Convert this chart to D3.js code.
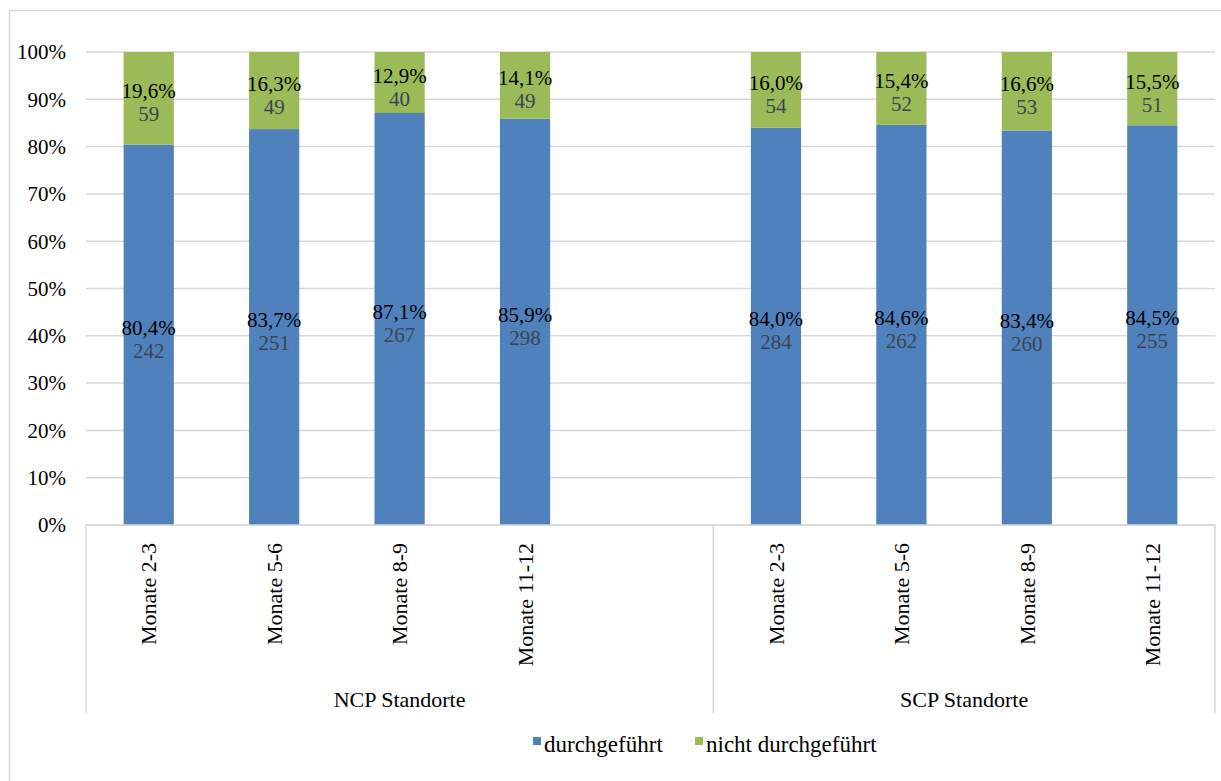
<!DOCTYPE html>
<html>
<head>
<meta charset="utf-8">
<script src="https://cdn.jsdelivr.net/npm/d3@7"></script>
<style>
  body { margin: 0; background: #fff; }
  text { font-family: "Liberation Serif", "Times New Roman", serif; }
</style>
</head>
<body>
<div id="chart"></div>
<script>
// Daten
const groups = ["NCP Standorte", "SCP Standorte"];
const months = ["Monate 2-3", "Monate 5-6", "Monate 8-9", "Monate 11-12"];
const pctDone = [[80.4, 83.7, 87.1, 85.9], [84.0, 84.6, 83.4, 84.5]];
const pctNotDone = [[19.6, 16.3, 12.9, 14.1], [16.0, 15.4, 16.6, 15.5]];
const cntDone = [[242, 251, 267, 298], [284, 262, 260, 255]];
const cntNotDone = [[59, 49, 40, 49], [54, 52, 53, 51]];
const series = ["durchgeführt", "nicht durchgeführt"];
const colors = ["#4f81bd", "#9bbb59"];
const yTicks = [0, 10, 20, 30, 40, 50, 60, 70, 80, 90, 100];

const W = 1221, H = 781;
const margin = { top: 52, left: 86, right: 6, bottom: 256 };
const plotH = H - margin.top - margin.bottom;

const svg = d3.select("#chart").append("svg")
    .attr("width", W).attr("height", H);

// Rahmen
svg.append("rect")
    .attr("x", 9.5).attr("y", 10.5)
    .attr("width", W + 20).attr("height", H + 20)
    .attr("fill", "none").attr("stroke", "#d9d9d9").attr("stroke-width", 1.5);

// Slots: NCP hat eine leere fünfte Kategorie
const rows = [];
groups.forEach((g, gi) => {
    months.forEach((m, mi) => {
        rows.push({
            key: g + "|" + m, group: g, month: m,
            done: pctDone[gi][mi], notDone: pctNotDone[gi][mi],
            cDone: cntDone[gi][mi], cNot: cntNotDone[gi][mi]
        });
    });
    if (gi === 0) rows.push({ key: g + "|blank", group: g, month: "", blank: true });
});

const x = d3.scaleBand()
    .domain(rows.map(d => d.key))
    .range([margin.left, W - margin.right])
    .paddingInner(0).paddingOuter(0);

const y = d3.scaleLinear().domain([0, 100]).range([margin.top + plotH, margin.top]);

const barW = x.bandwidth() * 0.4;

// Gitternetz
svg.append("g").selectAll("line")
    .data(yTicks)
    .enter().append("line")
    .attr("x1", margin.left).attr("x2", W - margin.right)
    .attr("y1", d => y(d)).attr("y2", d => y(d))
    .attr("stroke", "#d9d9d9").attr("stroke-width", 1.5);

// Y-Achse Beschriftung
svg.append("g").selectAll("text")
    .data(yTicks)
    .enter().append("text")
    .attr("x", 66).attr("y", d => y(d))
    .attr("dy", "0.35em")
    .attr("text-anchor", "end")
    .style("font-size", "21px")
    .text(d => d + "%");

const bars = rows.filter(d => !d.blank);
const cx = d => x(d.key) + x.bandwidth() / 2;

// Balken durchgeführt
svg.append("g").selectAll("rect")
    .data(bars)
    .enter().append("rect")
    .attr("x", d => cx(d) - barW / 2)
    .attr("width", barW)
    .attr("y", d => y(d.done))
    .attr("height", d => y(0) - y(d.done))
    .attr("fill", colors[0]);

// Balken nicht durchgeführt
svg.append("g").selectAll("rect")
    .data(bars)
    .enter().append("rect")
    .attr("x", d => cx(d) - barW / 2)
    .attr("width", barW)
    .attr("y", d => y(d.done + d.notDone))
    .attr("height", d => y(d.done) - y(d.done + d.notDone))
    .attr("fill", colors[1]);

const fmt = v => v.toFixed(1).replace(".", ",") + "%";

// Datenbeschriftungen
function labels(getLo, getHi, getPct, getCnt) {
    const g = svg.append("g");
    g.selectAll("text.pct")
        .data(bars).enter().append("text")
        .attr("class", "pct")
        .attr("x", cx)
        .attr("y", d => (y(getLo(d)) + y(getHi(d))) / 2)
        .attr("text-anchor", "middle")
        .style("font-size", "21px")
        .attr("fill", "#000")
        .text(d => fmt(getPct(d)));
    g.selectAll("text.cnt")
        .data(bars).enter().append("text")
        .attr("class", "cnt")
        .attr("x", cx)
        .attr("y", d => (y(getLo(d)) + y(getHi(d))) / 2 + 23)
        .attr("text-anchor", "middle")
        .style("font-size", "21px")
        .attr("fill", "#3b4452")
        .text(getCnt);
}
labels(d => 0, d => d.done, d => d.done, d => d.cDone);
labels(d => d.done, d => d.done + d.notDone, d => d.notDone, d => d.cNot);

// X-Achse
const axisY = y(0);
const sepBottom = 713;
svg.append("line")
    .attr("x1", margin.left).attr("x2", W - margin.right)
    .attr("y1", axisY).attr("y2", axisY)
    .attr("stroke", "#d9d9d9").attr("stroke-width", 1.5);

const gx0 = x(groups[0] + "|" + months[0]);
const gx1 = x(groups[1] + "|" + months[0]);
const gx2 = W - margin.right;
svg.append("g").selectAll("line")
    .data([gx0, gx1, gx2])
    .enter().append("line")
    .attr("x1", d => d).attr("x2", d => d)
    .attr("y1", axisY).attr("y2", sepBottom)
    .attr("stroke", "#d9d9d9").attr("stroke-width", 1.5);

// Kategorien (gedreht)
svg.append("g").selectAll("text")
    .data(bars)
    .enter().append("text")
    .attr("transform", d => `translate(${cx(d)},${axisY + 18}) rotate(-90)`)
    .attr("text-anchor", "end")
    .attr("dy", "0.35em")
    .style("font-size", "22px")
    .text(d => d.month);

// Gruppen
svg.append("g").selectAll("text")
    .data([[gx0, gx1], [gx1, gx2]])
    .enter().append("text")
    .attr("x", d => (d[0] + d[1]) / 2)
    .attr("y", 707)
    .attr("text-anchor", "middle")
    .style("font-size", "22px")
    .text((d, i) => groups[i]);

// Legende
const legend = svg.append("g");
const legX = [533, 695];
series.forEach((s, i) => {
    legend.append("rect")
        .attr("x", legX[i]).attr("y", 737)
        .attr("width", 8).attr("height", 8)
        .attr("fill", colors[i]);
    legend.append("text")
        .attr("x", legX[i] + 11).attr("y", 752)
        .style("font-size", "23px")
        .text(s);
});
</script>
</body>
</html>
